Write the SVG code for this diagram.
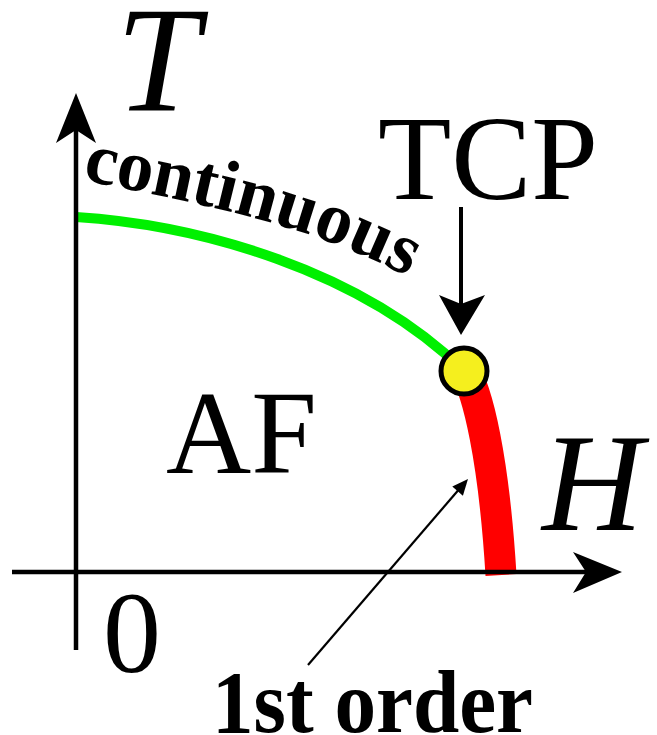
<svg xmlns="http://www.w3.org/2000/svg" width="657" height="735" viewBox="0 0 657 735">
<style>
.serif{font-family:'Liberation Serif','Times New Roman',Times,'DejaVu Serif',serif;fill:#000}
.it{font-style:italic}
.b{font-weight:bold}
.ax{stroke:#000;stroke-width:4.5;fill:none}
</style>
<defs>
<path id="tp" d="M82,180 C180,200 330,225 432,292"/>
</defs>
<rect width="657" height="735" fill="#fff"/>
<g id="curves">
<path id="green" d="M76,217 C200,225 360,270 463,370" fill="none" stroke="#00f000" stroke-width="10"/>
<path id="red" d="M463,368 C478,390 494,460 501,575" fill="none" stroke="#ff0000" stroke-width="31"/>
</g>
<g id="connectors">
<line class="ax" x1="76" y1="650" x2="76" y2="128"/>
<polygon points="76,93 96,143 76,130 56,143" fill="#000"/>
<line class="ax" x1="12" y1="572" x2="588" y2="572"/>
<polygon points="622,572 573,552 586,572 573,593" fill="#000"/>
<line x1="461" y1="207" x2="461" y2="305" stroke="#000" stroke-width="4"/>
<polygon points="461,335 439,295 461,304 485,295" fill="#000"/>
<line x1="308" y1="665" x2="461" y2="487" stroke="#000" stroke-width="2.2"/>
<polygon points="468,479 462.9,495.7 452.3,486.5" fill="#000"/>
</g>
<g id="tcp-point">
<circle cx="464" cy="371" r="23" fill="#f5ef1e" stroke="#000" stroke-width="5"/>
</g>
<g id="labels">
<text class="serif it" x="116" y="110" font-size="150">T</text>
<text class="serif it" x="542" y="530" font-size="140">H</text>
<text class="serif" x="378" y="199" font-size="120">TCP</text>
<text class="serif" x="166" y="473" font-size="118">AF</text>
<text class="serif" x="103" y="672" font-size="116">0</text>
<text class="serif b" x="212" y="732" font-size="88" textLength="321" lengthAdjust="spacingAndGlyphs">1st order</text>
<text class="serif b" font-size="73"><textPath href="#tp">continuous</textPath></text>
</g>
</svg>
